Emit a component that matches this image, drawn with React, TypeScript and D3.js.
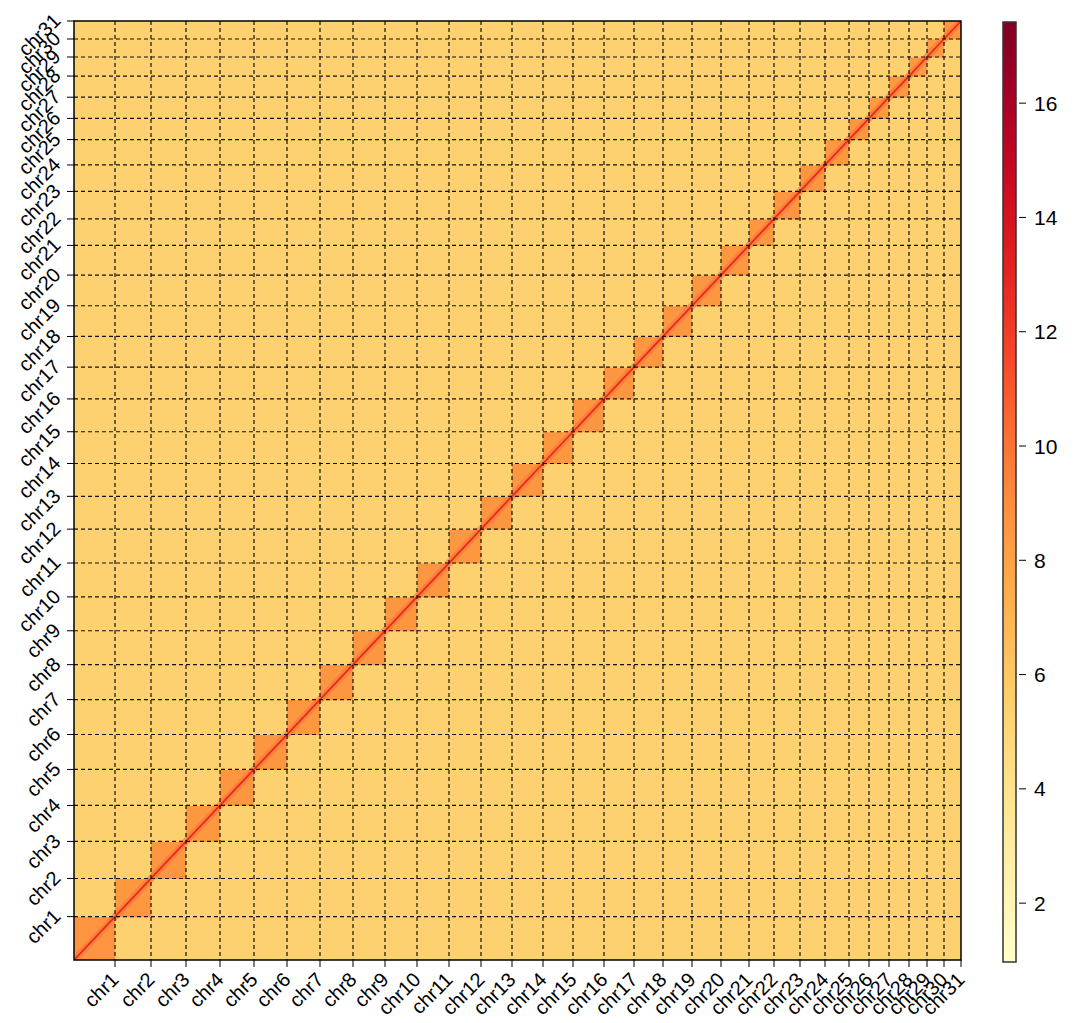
import React from 'react';
import * as d3 from 'd3';

const chroms = [
  'chr1', 'chr2', 'chr3', 'chr4', 'chr5', 'chr6', 'chr7', 'chr8', 'chr9', 'chr10',
  'chr11', 'chr12', 'chr13', 'chr14', 'chr15', 'chr16', 'chr17', 'chr18', 'chr19', 'chr20',
  'chr21', 'chr22', 'chr23', 'chr24', 'chr25', 'chr26', 'chr27', 'chr28', 'chr29', 'chr30', 'chr31',
];
const chromSizes = [
  41, 36, 35, 34, 34, 33, 33, 33, 32, 32,
  32, 32, 31, 31, 30, 31, 30, 29, 29, 29,
  28, 25, 26, 25, 24, 20, 20, 20, 18, 17, 17,
];
// log contact strength of the intra-chromosomal blocks
const intraValues = [
  8.7, 8.5, 8.6, 8.5, 8.6, 8.6, 8.5, 8.6, 8.6, 8.6,
  8.6, 8.5, 8.6, 8.6, 8.5, 8.6, 8.6, 8.5, 8.6, 8.6,
  8.5, 8.5, 8.6, 8.6, 8.5, 8.5, 8.4, 8.5, 8.4, 8.4, 8.5,
];
const interValue = 5.4;
const nearDiagValue = 9.8;
const diagValue = 12.8;

const colorDomain = [0.97, 17.42];
const colorTicks = [2, 4, 6, 8, 10, 12, 14, 16];

const FONT = '"Liberation Sans", Arial, sans-serif';

const App = () => {
  const width = 1078;
  const height = 1023;
  const plot = { left: 74, right: 961, top: 21, bottom: 960 };

  const ends = Array.from(d3.cumsum(chromSizes));
  const starts = ends.map((e, i) => e - chromSizes[i]);
  const total = ends[ends.length - 1];

  const x = d3.scaleLinear().domain([0, total]).range([plot.left, plot.right]);
  const y = d3.scaleLinear().domain([0, total]).range([plot.bottom, plot.top]);
  const color = d3.scaleSequential(d3.interpolateYlOrRd).domain(colorDomain);

  const cb = { left: 1003, right: 1016, top: 22, bottom: 962 };
  const cbScale = d3.scaleLinear().domain(colorDomain).range([cb.bottom, cb.top]);
  const gradStops = d3.range(0, 1.0001, 0.05);

  return (
    <svg width={width} height={height} style={{ position: 'absolute', left: 0, top: 0 }}>
      <defs>
        <linearGradient id="cbar" x1="0" y1="1" x2="0" y2="0">
          {gradStops.map((t) => (
            <stop key={t} offset={t} stopColor={d3.interpolateYlOrRd(t)} />
          ))}
        </linearGradient>
        <clipPath id="plotclip">
          <rect x={plot.left} y={plot.top} width={plot.right - plot.left} height={plot.bottom - plot.top} />
        </clipPath>
      </defs>

      <g clipPath="url(#plotclip)">
        {chroms.map((ci, i) =>
          chroms.map((cj, j) => (
            <rect
              key={ci + cj}
              x={x(starts[i])}
              y={y(ends[j])}
              width={x(ends[i]) - x(starts[i]) + 0.5}
              height={y(starts[j]) - y(ends[j]) + 0.5}
              fill={color(i === j ? intraValues[i] : interValue)}
            />
          ))
        )}
        {chroms.map((c, i) => (
          <line
            key={'nd' + c}
            x1={x(starts[i])}
            y1={y(starts[i])}
            x2={x(ends[i])}
            y2={y(ends[i])}
            stroke={color(nearDiagValue)}
            strokeWidth={7}
            opacity={0.7}
          />
        ))}
        {chroms.map((c, i) => (
          <line
            key={'d' + c}
            x1={x(starts[i])}
            y1={y(starts[i])}
            x2={x(ends[i])}
            y2={y(ends[i])}
            stroke={color(diagValue)}
            strokeWidth={1.8}
          />
        ))}
        {ends.slice(0, -1).map((e) => (
          <g key={'g' + e}>
            <line x1={x(e)} x2={x(e)} y1={plot.top} y2={plot.bottom}
              stroke="#111" strokeWidth={1.2} strokeDasharray="4 3" />
            <line x1={plot.left} x2={plot.right} y1={y(e)} y2={y(e)}
              stroke="#111" strokeWidth={1.2} strokeDasharray="4 3" />
          </g>
        ))}
      </g>

      <rect x={plot.left} y={plot.top} width={plot.right - plot.left} height={plot.bottom - plot.top}
        fill="none" stroke="#000" strokeWidth={1.5} />

      {/* x axis */}
      {chroms.map((c, i) => (
        <g key={'xt' + c}>
          <line x1={x(ends[i])} x2={x(ends[i])} y1={plot.bottom} y2={plot.bottom + 7} stroke="#000" strokeWidth={1} />
          <text
            transform={`translate(${x(ends[i])},${plot.bottom + 16}) rotate(-45)`}
            textAnchor="end"
            dy="0.35em"
            fontFamily={FONT}
            fontSize={20}
          >
            {c}
          </text>
        </g>
      ))}

      {/* y axis */}
      {chroms.map((c, i) => (
        <g key={'yt' + c}>
          <line x1={plot.left - 7} x2={plot.left} y1={y(ends[i])} y2={y(ends[i])} stroke="#000" strokeWidth={1} />
          <text
            transform={`translate(${plot.left - 17},${y(ends[i]) - 4}) rotate(-45)`}
            textAnchor="end"
            dy="0.35em"
            fontFamily={FONT}
            fontSize={20}
          >
            {c}
          </text>
        </g>
      ))}

      {/* colorbar */}
      <rect x={cb.left} y={cb.top} width={cb.right - cb.left} height={cb.bottom - cb.top}
        fill="url(#cbar)" stroke="#333" strokeWidth={1.5} />
      {colorTicks.map((t) => (
        <g key={'ct' + t}>
          <line x1={cb.right + 3} x2={cb.right + 10} y1={cbScale(t)} y2={cbScale(t)} stroke="#000" strokeWidth={1} />
          <text x={cb.right + 18} y={cbScale(t)} dy="0.36em" fontFamily={FONT} fontSize={21}>
            {t}
          </text>
        </g>
      ))}
    </svg>
  );
};

export default App;
